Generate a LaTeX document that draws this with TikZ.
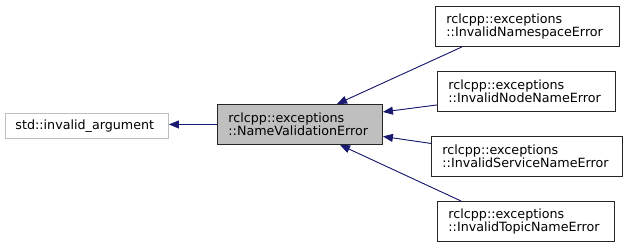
\documentclass[tikz,border=0pt]{standalone}
\usepackage{fontspec}
\setmainfont{DejaVu Sans}
\usetikzlibrary{arrows.meta,calc}
\definecolor{edgeblue}{HTML}{191970}
\definecolor{grayfill}{HTML}{BFBFBF}
\definecolor{grayline}{HTML}{BFBFBF}
\tikzset{
  cls/.style={draw=black!85, line width=0.9pt, rectangle, align=left, anchor=north west,
    inner xsep=11pt, inner ysep=0pt, minimum height=40pt,
    font=\fontsize{12.7}{13.2}\selectfont, text=black},
  ext/.style={cls, draw=grayline, minimum height=25pt, inner xsep=10pt},
  cur/.style={cls, fill=grayfill},
  edge/.style={draw=edgeblue, line width=0.9pt, -{Triangle[length=10pt,width=8pt]}, fill=edgeblue}
}
\begin{document}
\begin{tikzpicture}[x=1pt,y=-1pt]
\useasboundingbox (0,0) rectangle (628,248);
\node[ext, text width=143pt] (inv) at (5,113) {std::invalid\_argument};
\node[cur, text width=143pt] (nv) at (217,104) {rclcpp::exceptions\\::NameValidationError};
\node[cls, text width=162pt] (ns) at (435,6) {rclcpp::exceptions\\::InvalidNamespaceError};
\node[cls, text width=156pt] (nn) at (437,71) {rclcpp::exceptions\\::InvalidNodeNameError};
\node[cls, text width=169pt] (svc) at (431,136) {rclcpp::exceptions\\::InvalidServiceNameError};
\node[cls, text width=155pt] (tp) at (437,201) {rclcpp::exceptions\\::InvalidTopicNameError};
\draw[edge] (nv.west) -- (inv.east |- nv.west);
\draw[edge] ($(ns.south west)+(27,0)$) -- ($(nv.north west)+(120,0)$);
\draw[edge] ($(nn.west)+(0,13.5)$) -- ($(nv.east)+(0,-12.5)$);
\draw[edge] ($(svc.west)+(0,-13)$) -- ($(nv.east)+(0,12)$);
\draw[edge] ($(tp.north west)+(24,0)$) -- ($(nv.south west)+(123,0)$);
\end{tikzpicture}
\end{document}
